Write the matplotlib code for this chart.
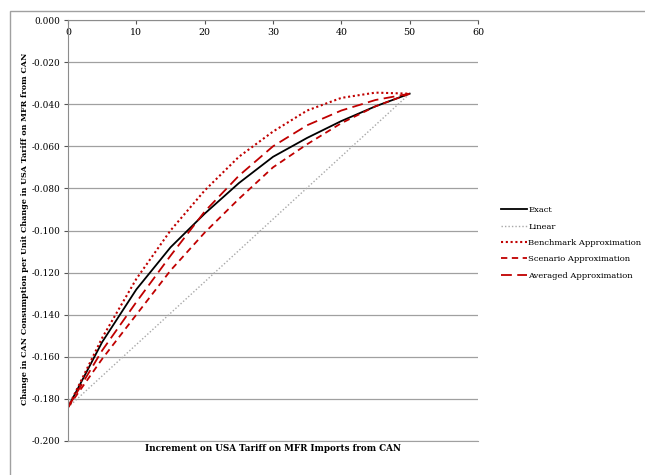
import matplotlib.pyplot as plt
from matplotlib.patches import Rectangle

# increments on the tariff
x = [0, 5, 10, 15, 20, 25, 30, 35, 40, 45, 50]
exact = [-0.184, -0.153, -0.128, -0.108, -0.092, -0.0775, -0.065, -0.056, -0.048, -0.041, -0.035]
linear_x = [0, 50]
linear = [-0.184, -0.035]
benchmark = [-0.184, -0.151, -0.123, -0.100, -0.081, -0.065, -0.053, -0.043, -0.037, -0.0345, -0.035]
scenario = [-0.184, -0.161, -0.140, -0.119, -0.101, -0.085, -0.070, -0.059, -0.049, -0.041, -0.035]
averaged = [-0.184, -0.157, -0.134, -0.112, -0.091, -0.074, -0.060, -0.050, -0.043, -0.038, -0.035]

red = "#C00000"
plt.rcParams["font.family"] = "DejaVu Serif"

fig = plt.figure(figsize=(6.45, 4.75), dpi=100)
ax = fig.add_axes([68 / 645, 1 - 441 / 475, 410 / 645, 421 / 475])

ax.plot(x, exact, color="black", lw=1.3, label="Exact")
ax.plot(linear_x, linear, color="#A8A8A8", lw=1.0, ls=(0, (1, 1.5)), label="Linear")
ax.plot(x, benchmark, color=red, lw=1.5, ls=(0, (1, 1.3)), label="Benchmark Approximation")
ax.plot(x, scenario, color=red, lw=1.3, ls=(0, (3.5, 2.5)), label="Scenario Approximation")
ax.plot(x, averaged, color=red, lw=1.3, ls=(0, (6, 3)), label="Averaged Approximation")

ax.set_xlim(0, 60)
ax.set_ylim(-0.2, 0)
ax.set_xticks(range(0, 61, 10))
ax.set_yticks([i * -0.02 for i in range(11)])
ax.set_yticklabels(["%.3f" % (i * -0.02) if i else "0.000" for i in range(11)])
ax.yaxis.grid(True, color="#A0A0A0", lw=0.9)
ax.set_axisbelow(True)

ax.spines["right"].set_visible(False)
ax.spines["bottom"].set_color("#A0A0A0")
for s in ["left", "top"]:
    ax.spines[s].set_color("#8C8C8C")
ax.xaxis.set_ticks_position("top")
ax.tick_params(axis="x", direction="in", length=3, pad=-12, labelsize=6.8, colors="#555555")
ax.tick_params(axis="y", direction="out", length=3, pad=2.5, labelsize=6.4, colors="#555555")
for lab in ax.get_xticklabels() + ax.get_yticklabels():
    lab.set_color("black")

ax.set_xlabel("Increment on USA Tariff on MFR Imports from CAN", fontsize=6.3, fontweight="bold", labelpad=2)
ax.set_ylabel("Change in CAN Consumption per Unit Change in USA Tariff on MFR from CAN",
              fontsize=5.8, fontweight="bold")
ax.yaxis.set_label_coords(-0.095, 0.505)

fig.legend(loc="upper left", bbox_to_anchor=(498 / 645, 1 - 203 / 475), frameon=False,
           fontsize=6.0, handlelength=3.1, handletextpad=0.15, labelspacing=1.0, borderaxespad=0)

fig.patches.append(Rectangle((10 / 645, -0.05), 1.2, 1 - 11 / 475 + 0.05, transform=fig.transFigure,
                             fill=False, ec="#A0A0A0", lw=1.0))

fig.savefig("out.png", dpi=100)
